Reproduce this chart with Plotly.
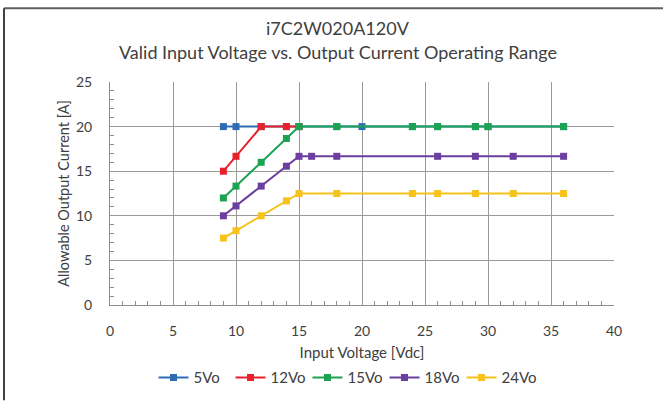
import plotly.graph_objects as go

# Data
x_5 = [9, 10, 12, 14, 15, 18, 20, 24, 26, 29, 30, 36]
y_5 = [20, 20, 20, 20, 20, 20, 20, 20, 20, 20, 20, 20]
x_12 = [9, 10, 12, 14, 15]
y_12 = [15, 16.67, 20, 20, 20]
x_15 = [9, 10, 12, 14, 15, 18, 24, 26, 29, 30, 36]
y_15 = [12, 13.33, 16, 18.67, 20, 20, 20, 20, 20, 20, 20]
x_18 = [9, 10, 12, 14, 15, 16, 18, 26, 29, 32, 36]
y_18 = [10, 11.11, 13.33, 15.56, 16.67, 16.67, 16.67, 16.67, 16.67, 16.67, 16.67]
x_24 = [9, 10, 12, 14, 15, 18, 24, 26, 29, 32, 36]
y_24 = [7.5, 8.33, 10, 11.67, 12.5, 12.5, 12.5, 12.5, 12.5, 12.5, 12.5]

names = ["5Vo", "12Vo", "15Vo", "18Vo", "24Vo"]
colors = ["#2E6DB4", "#E8212B", "#1BA352", "#6B3FA0", "#F7C21A"]
series = [(x_5, y_5), (x_12, y_12), (x_15, y_15), (x_18, y_18), (x_24, y_24)]

FONT = "Lato"
W, H = 663, 406
L, R, T, B = 110, 49, 82, 97
PW, PH = W - L - R, H - T - B

fig = go.Figure()
for (xs, ys), n, c in zip(series, names, colors):
    fig.add_trace(go.Scatter(x=xs, y=ys, name=n, mode="lines+markers",
                             line=dict(color=c, width=2),
                             marker=dict(symbol="square", size=7, color=c)))

axis_common = dict(showline=True, linecolor="#8c8c8c", linewidth=1,
                   showgrid=True, gridcolor="#9a9a9a", gridwidth=1,
                   zeroline=False, ticks="", automargin=False,
                   tickfont=dict(family=FONT, size=14, color="#404040"),
                   minor=dict(ticks="inside", ticklen=4, dtick=1, tickcolor="#8c8c8c",
                              showgrid=False))

fig.update_xaxes(range=[0, 40], dtick=5, tick0=0, ticklabelstandoff=13,
                 title=dict(text="Input Voltage [Vdc]", font=dict(family=FONT, size=15, color="#404040"), standoff=9),
                 **axis_common)
fig.update_yaxes(range=[0, 25], dtick=5, tick0=0, ticklabelstandoff=14,
                 title=dict(text="Allowable Output Current [A]", font=dict(family=FONT, size=14.5, color="#404040"), standoff=2),
                 **axis_common)

for txt, ypx in [("i7C2W020A120V", 27), ("Valid Input Voltage vs. Output Current Operating Range", 51)]:
    fig.add_annotation(text=txt, xref="paper", yref="paper",
                       x=(338 - L) / PW, y=1 + (T - ypx) / PH,
                       showarrow=False, font=dict(family=FONT, size=18, color="#404040"),
                       xanchor="center", yanchor="middle")

# outer frame (top and left edges)
fig.add_shape(type="line", xref="paper", yref="paper",
              x0=(4 - L) / PW, x1=(W - L) / PW,
              y0=1 + (T - 7) / PH, y1=1 + (T - 7) / PH,
              line=dict(color="#606060", width=2))
fig.add_shape(type="line", xref="paper", yref="paper",
              x0=(4 - L) / PW, x1=(4 - L) / PW,
              y0=1 + (T - 7) / PH, y1=-(B) / PH,
              line=dict(color="#404040", width=2))

fig.update_layout(
    width=W, height=H,
    margin=dict(l=L, r=R, t=T, b=B),
    paper_bgcolor="white", plot_bgcolor="white",
    font=dict(family=FONT, color="#404040"),
    showlegend=True,
    legend=dict(orientation="h", x=(346 - L) / PW, xanchor="center",
                y=-(383 - 309) / PH, yanchor="middle",
                font=dict(family=FONT, size=15, color="#404040"),
                itemwidth=30, entrywidth=32, tracegroupgap=0),
)

fig.write_html("out.html", config={"displayModeBar": False},
               post_script="document.body.style.margin='0';document.body.style.overflow='hidden';")
